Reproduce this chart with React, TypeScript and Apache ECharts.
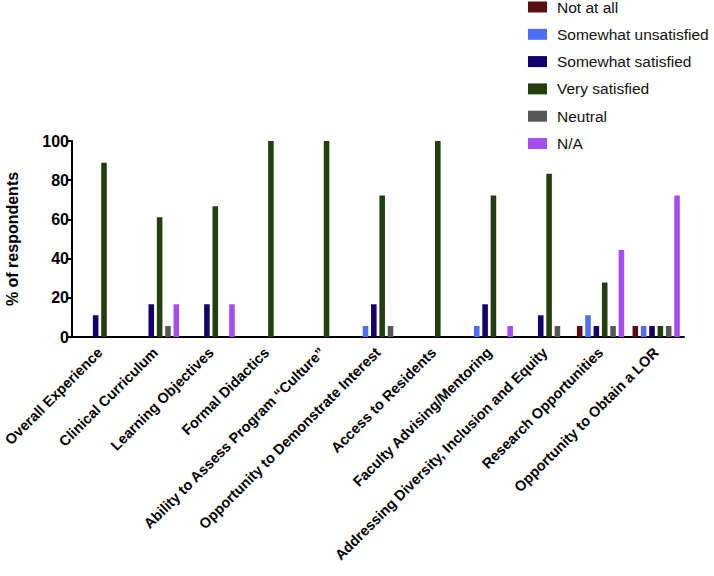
import React, { useEffect, useRef } from "react";
import * as echarts from "echarts";

const categories = [
  "Overall Experience",
  "Clinical Curriculum",
  "Learning Objectives",
  "Formal Didactics",
  "Ability to Assess Program “Culture”",
  "Opportunity to Demonstrate Interest",
  "Access to Residents",
  "Faculty Advising/Mentoring",
  "Addressing Diversity, Inclusion and Equity",
  "Research Opportunities",
  "Opportunity to Obtain a LOR",
];

const seriesNames = [
  "Not at all",
  "Somewhat unsatisfied",
  "Somewhat satisfied",
  "Very satisfied",
  "Neutral",
  "N/A",
];

const notAtAll = [0, 0, 0, 0, 0, 0, 0, 0, 0, 5.6, 5.6];
const somewhatUnsatisfied = [0, 0, 0, 0, 0, 5.6, 0, 5.6, 0, 11.1, 5.6];
const somewhatSatisfied = [11.1, 16.7, 16.7, 0, 0, 16.7, 0, 16.7, 11.1, 5.6, 5.6];
const verySatisfied = [88.9, 61.1, 66.7, 100, 100, 72.2, 100, 72.2, 83.3, 27.8, 5.6];
const neutral = [0, 5.6, 0, 0, 0, 5.6, 0, 0, 5.6, 5.6, 5.6];
const notApplicable = [0, 16.7, 16.7, 0, 0, 0, 0, 5.6, 0, 44.4, 72.2];

const yTicks = [0, 20, 40, 60, 80, 100];

const colors = ["#5a1012", "#4d6ef8", "#14006c", "#233f10", "#575757", "#a54cf5"];

export default function App() {
  const ref = useRef<HTMLDivElement>(null);
  useEffect(() => {
    document.body.style.margin = "0";
    if (!ref.current) return;
    const chart = echarts.init(ref.current, null, { renderer: "svg" });
    const values = [notAtAll, somewhatUnsatisfied, somewhatSatisfied, verySatisfied, neutral, notApplicable];
    const font = "'Liberation Sans', Arial, Helvetica, sans-serif";
    chart.setOption({
      animation: false,
      color: colors,
      textStyle: { fontFamily: font },
      legend: {
        orient: "vertical",
        left: 528,
        top: -1,
        padding: 0,
        itemWidth: 19,
        itemHeight: 11,
        itemGap: 11.3,
        icon: "rect",
        data: seriesNames,
        textStyle: { fontSize: 15.5, color: "#111", fontFamily: font, lineHeight: 16, padding: [0, 0, 0, 5] },
      },
      grid: { left: 72, right: 30, top: 141, bottom: 239, containLabel: false, outerBoundsMode: "none" },
      xAxis: {
        type: "category",
        data: categories,
        axisLine: { lineStyle: { color: "#000", width: 2 } },
        axisTick: { alignWithLabel: true, length: 6, lineStyle: { color: "#000", width: 2 } },
        axisLabel: {
          rotate: 45,
          interval: 0,
          margin: 13,
          fontSize: 14.5,
          fontWeight: "bold",
          color: "#000",
          fontFamily: font,
        },
      },
      yAxis: {
        type: "value",
        min: yTicks[0],
        max: yTicks[yTicks.length - 1],
        interval: 20,
        name: "% of respondents",
        nameLocation: "middle",
        nameGap: 52,
        nameTextStyle: { fontSize: 16, fontWeight: "bold", color: "#000", fontFamily: font },
        splitLine: { show: false },
        axisLine: { show: true, lineStyle: { color: "#000", width: 2 } },
        axisTick: { show: true, length: 6, lineStyle: { color: "#000", width: 2 } },
        axisLabel: { fontSize: 16, fontWeight: "bold", color: "#000", margin: 3, fontFamily: font },
      },
      series: seriesNames.map((name, i) => ({
        name,
        type: "bar",
        data: values[i],
        barGap: "50%",
        barCategoryGap: "15%",
        itemStyle: { color: colors[i] },
      })),
    });
    return () => chart.dispose();
  }, []);
  return <div ref={ref} style={{ width: 714, height: 576 }} />;
}
